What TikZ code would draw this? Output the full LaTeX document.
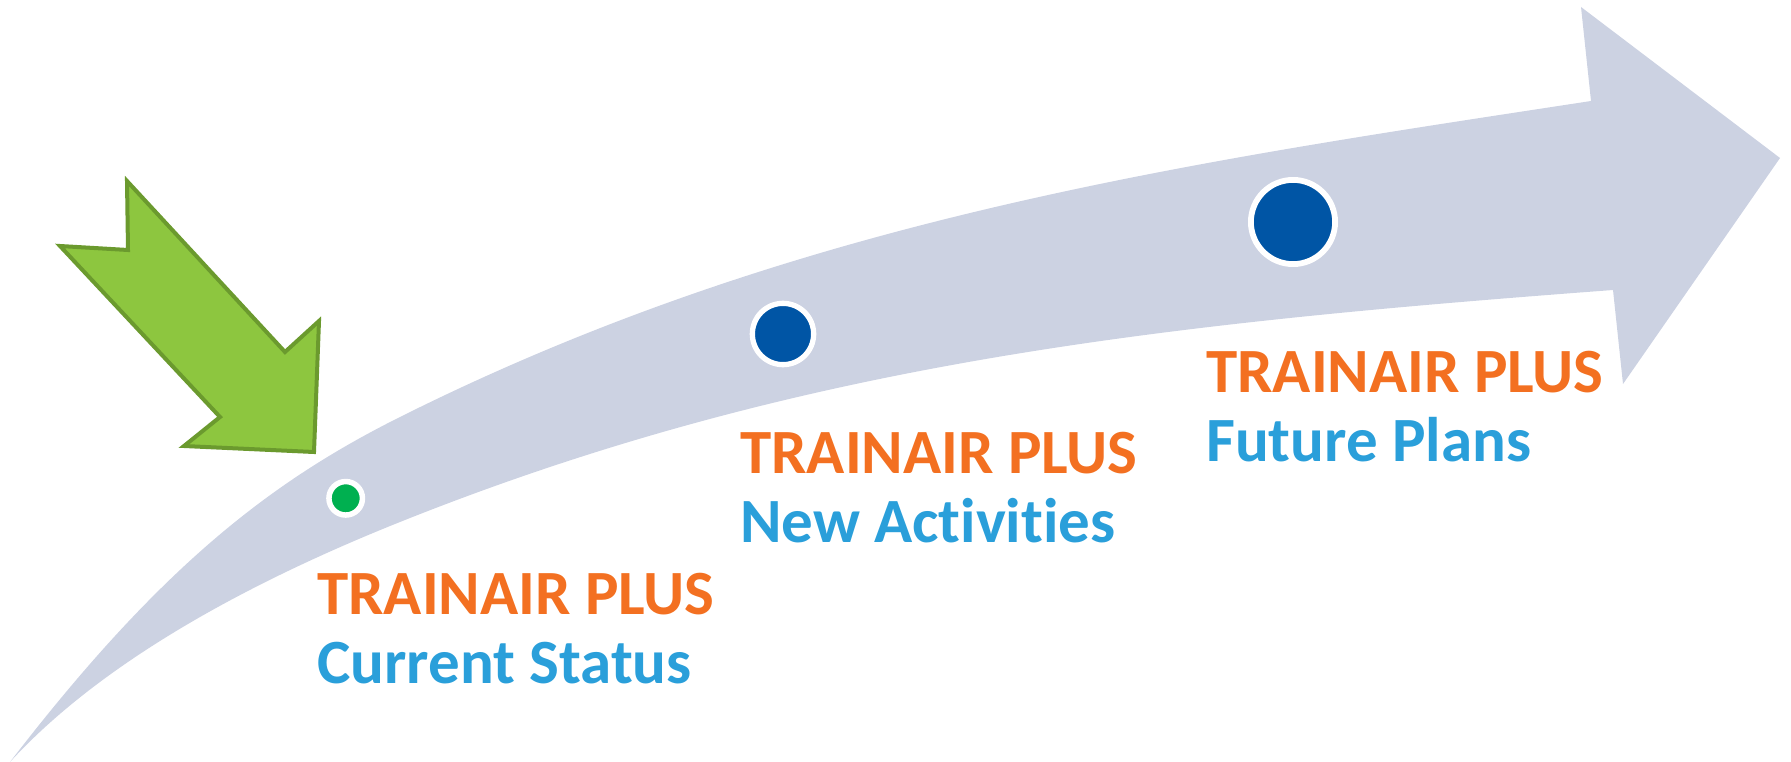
\documentclass[tikz,border=0pt]{standalone}
\usepackage{fontspec}
\setmainfont{Carlito}[Ligatures=NoCommon]
\definecolor{band}{HTML}{CCD2E2}
\definecolor{leaf}{HTML}{8DC63F}
\definecolor{leafedge}{HTML}{6B9A2E}
\definecolor{orng}{HTML}{F37021}
\definecolor{skyb}{HTML}{2A9FDA}
\definecolor{navy}{HTML}{0055A5}
\definecolor{grn}{HTML}{00B050}
\tikzset{
  dot/.style={circle, draw=white, inner sep=0pt},
  title/.style={anchor=base west, inner sep=0pt, text=orng, font=\fontsize{63}{70}\selectfont\bfseries},
  sub/.style={anchor=base west, inner sep=0pt, text=skyb, font=\fontsize{63}{70}\selectfont\bfseries}
}
\begin{document}
\begin{tikzpicture}[x=1pt,y=-1pt]
\useasboundingbox (0,0) rectangle (1791,762);
% big curved arrow
\fill[band]
  (10,762) .. controls (160,567) and (270,482) .. (400,417)
  .. controls (800,217) and (1191,162.2) .. (1591,101)
  -- (1581,7) -- (1780,158) -- (1623,384) -- (1613,290)
  .. controls (1163,323.75) and (800,362) .. (400,522)
  .. controls (270,574) and (110,653) .. (10,762) -- cycle;
% green arrow
\draw[fill=leaf, draw=leafedge, line width=4pt, line join=miter]
  (127,181) -- (285,352) -- (319,321) -- (314,452) -- (184,446) -- (220,417) -- (60,246) -- (128,250) -- cycle;
% dots
\node[dot, fill=grn, line width=5.5pt, minimum size=33.5pt] (d1) at (345.7,498.3) {};
\node[dot, fill=navy, line width=5.3pt, minimum size=61.3pt] (d2) at (783,334) {};
\node[dot, fill=navy, line width=5.8pt, minimum size=84.2pt] (d3) at (1293,222) {};
% labels
\node[title] (t1) at (317,614) {TRAINAIR PLUS};
\node[sub] (s1) at (317,683) {Current Status};
\node[title] (t2) at (740,473) {TRAINAIR PLUS};
\node[sub] (s2) at (740,542.5) {New Activities};
\node[title] (t3) at (1206,392) {TRAINAIR PLUS};
\node[sub] (s3) at (1206,461) {Future Plans};
\end{tikzpicture}
\end{document}
